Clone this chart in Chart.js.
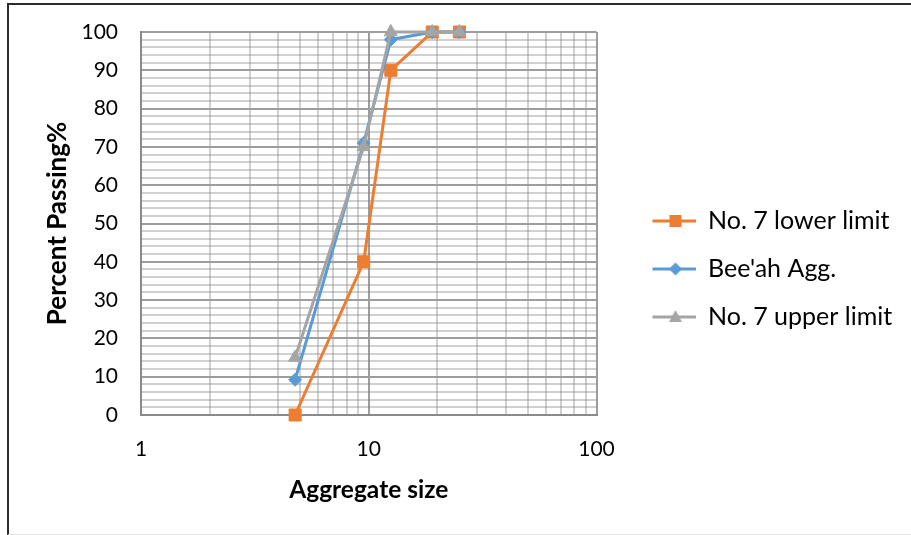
<!DOCTYPE html>
<html>
<head>
<meta charset="utf-8">
<script src="https://cdn.jsdelivr.net/npm/chart.js@4"></script>
<style>
  html, body { margin: 0; padding: 0; background: #fff; }
  #wrap { position: relative; width: 911px; height: 535px; overflow: hidden; }
  #frame { position: absolute; left: 7px; top: 3px; width: 920px; height: 529px;
           border-top: 2px solid #2b2b2b; border-left: 2px solid #2b2b2b;
           border-bottom: 1px solid #e2e2e2; pointer-events: none; }
  canvas { display: block; }
</style>
</head>
<body>
<div id="wrap"><canvas id="c" width="911" height="535"></canvas><div id="frame"></div></div>
<script>
// Sieve sizes (mm) and percent passing for each gradation curve
const sieveSizes = [4.75, 9.5, 12.5, 19, 25];
const lowerLimit = [0, 40, 90, 100, 100];
const beeahAgg   = [9.2, 71, 98, 100, 100];
const upperLimit = [15, 70, 100, 100, 100];
const seriesNames = ['No. 7 lower limit', "Bee'ah Agg.", 'No. 7 upper limit'];

// Axis tick values and which of them carry a label
const xTickValues = [1, 2, 3, 4, 5, 6, 7, 8, 9, 10, 20, 30, 40, 50, 60, 70, 80, 90, 100];
const xLabelValues = [1, 10, 100];
const xTitle = 'Aggregate size';
const yTitle = 'Percent Passing%';

const FONT = 'Lato';
const LEGEND_SIZE = 25;
const colors = { orange: '#ED7D31', blue: '#5B9BD5', gray: '#A5A5A5' };
const MAJOR_GRID = '#9d9d9d';
const MINOR_GRID = 'rgba(128,128,128,0.37)';
const AXIS_LINE = '#8a8a8a';

const toPoints = ys => sieveSizes.map((x, i) => ({ x, y: ys[i] }));

// Legend symbols: a line segment with the series marker in its middle
const ICON_W = 76, ICON_H = 18;
function legendIcon(color, shape) {
  const c = document.createElement('canvas');
  c.width = ICON_W; c.height = ICON_H;
  const g = c.getContext('2d');
  const cy = ICON_H / 2, x0 = 33, x1 = 76, cx = 56;
  g.strokeStyle = color; g.fillStyle = color; g.lineWidth = 3;
  g.beginPath(); g.moveTo(x0, cy); g.lineTo(x1, cy); g.stroke();
  g.beginPath();
  if (shape === 'rect') {
    g.rect(cx - 6, cy - 6, 12, 12);
  } else if (shape === 'rectRot') {
    g.moveTo(cx, cy - 6.5); g.lineTo(cx + 6.5, cy); g.lineTo(cx, cy + 6.5); g.lineTo(cx - 6.5, cy);
    g.closePath();
  } else {
    g.moveTo(cx, cy - 7); g.lineTo(cx + 6.5, cy + 5); g.lineTo(cx - 6.5, cy + 5); g.closePath();
  }
  g.fill();
  return c;
}
const icons = [
  legendIcon(colors.orange, 'rect'),
  legendIcon(colors.blue, 'rectRot'),
  legendIcon(colors.gray, 'triangle')
];

// Right padding so the plot ends where the legend column begins
const measure = document.createElement('canvas').getContext('2d');
measure.font = LEGEND_SIZE + 'px ' + FONT;
const textW = Math.max(...seriesNames.map(s => measure.measureText(s).width));
const LEG_PAD = 23;
const legendW = LEG_PAD + ICON_W + LEGEND_SIZE / 2 + textW + 9.5;
const plotRight = 597;
const padRight = Math.max(0, 911 - plotRight - legendW);

const common = { fill: false, tension: 0, borderWidth: 3, clip: false, pointBorderWidth: 1 };

new Chart(document.getElementById('c'), {
  type: 'line',
  data: {
    datasets: [
      Object.assign({ label: seriesNames[0], data: toPoints(lowerLimit), order: 3,
        borderColor: colors.orange, backgroundColor: colors.orange,
        pointStyle: 'rect', pointRadius: 8.5, pointHoverRadius: 8.5 }, common),
      Object.assign({ label: seriesNames[1], data: toPoints(beeahAgg), order: 2,
        borderColor: colors.blue, backgroundColor: colors.blue,
        pointStyle: 'rectRot', pointRadius: 6.5, pointHoverRadius: 6.5 }, common),
      Object.assign({ label: seriesNames[2], data: toPoints(upperLimit), order: 1,
        borderColor: colors.gray, backgroundColor: colors.gray,
        pointStyle: 'triangle', pointRadius: 7.5, pointHoverRadius: 7.5 }, common)
    ]
  },
  options: {
    responsive: false,
    animation: false,
    devicePixelRatio: 1,
    layout: { autoPadding: false, padding: { left: 0, top: 32, right: padRight, bottom: 29 } },
    plugins: {
      tooltip: { enabled: false },
      legend: {
        position: 'right',
        align: 'center',
        maxWidth: 600,
        labels: {
          usePointStyle: true,
          pointStyleWidth: ICON_W,
          padding: LEG_PAD,
          color: '#000',
          font: { family: FONT, size: LEGEND_SIZE },
          sort: (a, b) => a.datasetIndex - b.datasetIndex,
          generateLabels: chart => {
            const items = Chart.defaults.plugins.legend.labels.generateLabels(chart);
            items.forEach(it => { it.pointStyle = icons[it.datasetIndex]; });
            return items;
          }
        }
      }
    },
    scales: {
      x: {
        type: 'logarithmic',
        min: 1, max: 100,
        afterBuildTicks: scale => { scale.ticks = xTickValues.map(v => ({ value: v })); },
        afterFit: scale => { scale.height = 91; },
        ticks: {
          autoSkip: false, maxRotation: 0, padding: 22,
          color: '#000', font: { family: FONT, size: 21 },
          callback: v => xLabelValues.includes(v) ? String(v) : ''
        },
        grid: {
          drawTicks: false,
          color: ctx => (ctx.tick && xLabelValues.includes(ctx.tick.value)) ? MAJOR_GRID : MINOR_GRID,
          lineWidth: 2
        },
        border: { color: AXIS_LINE, width: 2 },
        title: { display: true, text: xTitle, color: '#000',
                 font: { family: FONT, size: 24.5, weight: 'bold' }, padding: { top: 0, bottom: 1 } }
      },
      y: {
        type: 'linear',
        min: 0, max: 100,
        ticks: {
          stepSize: 2, autoSkip: false, padding: 23,
          color: '#000', font: { family: FONT, size: 21 },
          callback: v => v % 10 === 0 ? String(v) : ''
        },
        afterFit: scale => {
          scale.width = 141;
          scale.paddingTop = 0;
          scale.paddingBottom = 0;
        },
        grid: {
          drawTicks: false,
          color: ctx => (ctx.tick && ctx.tick.value % 10 === 0) ? MAJOR_GRID : MINOR_GRID,
          lineWidth: 2
        },
        border: { color: AXIS_LINE, width: 2 },
        title: { display: true, text: yTitle, color: '#000',
                 font: { family: FONT, size: 26, weight: 'bold' }, padding: { top: 42, bottom: 0 } }
      }
    }
  }
});
</script>
</body>
</html>
